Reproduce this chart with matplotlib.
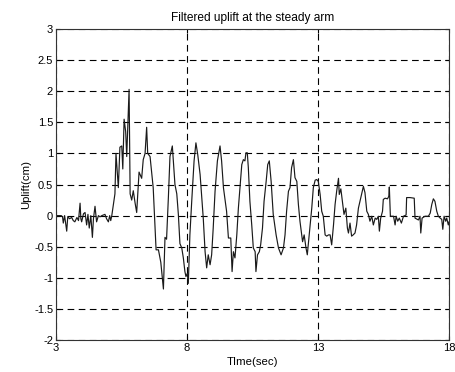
import matplotlib
matplotlib.use('Agg')
import matplotlib.pyplot as plt

plt.rcParams['font.family'] = ['Liberation Sans', 'DejaVu Sans']
plt.rcParams['axes.unicode_minus'] = False

# time (s) and filtered uplift (cm)
time_s = [
    3.00, 3.20, 3.25, 3.28, 3.33, 3.41, 3.45, 3.52, 3.60, 3.66, 3.72, 3.80, 3.86,
    3.92, 3.95, 3.98, 4.05, 4.11, 4.17, 4.22, 4.27, 4.33, 4.39, 4.43, 4.49, 4.55,
    4.62, 4.68, 4.75, 4.87, 4.93, 5.00, 5.05, 5.09, 5.13, 5.25, 5.29, 5.34, 5.38,
    5.44, 5.51, 5.55, 5.60, 5.66, 5.70, 5.74, 5.79, 5.83, 5.89, 5.95, 6.02, 6.08,
    6.17, 6.27, 6.33, 6.40, 6.46, 6.50, 6.59, 6.71, 6.82, 6.91, 7.00, 7.07, 7.10,
    7.16, 7.22, 7.29, 7.35, 7.44,
    7.54, 7.61, 7.67, 7.73, 7.80, 7.86, 7.92, 7.96, 8.01, 8.05, 8.11, 8.18, 8.27,
    8.34, 8.41, 8.50, 8.62, 8.69, 8.75, 8.81, 8.88, 8.94, 9.00, 9.07, 9.16, 9.26,
    9.32, 9.39, 9.51, 9.58, 9.67, 9.72, 9.77, 9.83, 9.90, 9.96, 10.02, 10.09,
    10.15, 10.21, 10.25, 10.30, 10.34, 10.40, 10.47, 10.53, 10.60, 10.63, 10.69,
    10.76, 10.81, 10.88, 10.94, 11.02, 11.08, 11.14, 11.21, 11.29, 11.40, 11.49,
    11.59, 11.68, 11.74, 11.80, 11.87, 11.93, 11.99, 12.06, 12.12, 12.19, 12.25,
    12.31, 12.41, 12.47, 12.54, 12.59, 12.64, 12.69, 12.76, 12.82, 12.89, 12.95,
    13.01,
    13.08, 13.14, 13.20, 13.27, 13.33, 13.40, 13.46, 13.52, 13.59, 13.65, 13.71,
    13.78, 13.81, 13.87, 13.93, 13.99, 14.06, 14.12, 14.16, 14.22, 14.28, 14.34,
    14.41, 14.47, 14.54, 14.60, 14.66, 14.73, 14.79, 14.86, 14.92, 14.98, 15.05,
    15.11, 15.18, 15.24, 15.30, 15.34, 15.39, 15.46, 15.49, 15.56, 15.65, 15.70,
    15.72, 15.76, 15.88, 15.94, 15.98, 16.04, 16.10, 16.18, 16.26, 16.36, 16.38,
    16.51, 16.67, 16.70, 16.83, 16.89, 16.92, 16.97, 17.08, 17.21, 17.28, 17.34,
    17.40, 17.46, 17.53, 17.59, 17.66, 17.72, 17.76, 17.81, 17.87, 17.91, 17.97,
    18.00,
]
uplift_cm = [
    0.00, 0.00, -0.02, -0.12, 0.00, -0.25, -0.02, -0.05, -0.03, -0.08, -0.10, -0.03, -0.08,
    0.20, -0.05, -0.10, 0.03, 0.05, -0.15, 0.02, -0.20, 0.00, -0.35, -0.05, 0.15, -0.10,
    0.00, -0.02, 0.00, 0.02, -0.05, -0.10, 0.00, -0.08, 0.00, 0.35, 1.00, 0.70, 0.45,
    1.10, 1.12, 0.75, 1.55, 1.35, 0.95, 1.45, 2.03, 0.35, 0.25, 0.40, 0.20, 0.05,
    0.70, 0.60, 0.90, 1.00, 1.42, 1.00, 0.95, 0.45, -0.55, -0.55, -0.75, -1.05, -1.18,
    -0.35, -0.38, 0.30, 0.95, 1.12,
    0.50, 0.35, 0.02, -0.45, -0.52, -0.68, -0.90, -0.98, -0.93, -1.09, -0.31, 0.23, 0.88,
    1.17, 0.98, 0.66, -0.04, -0.58, -0.84, -0.63, -0.79, -0.63, -0.20, 0.39, 0.88, 1.12,
    0.88, 0.45, 0.07, -0.36, -0.36, -0.90, -0.58, -0.68, -0.31, 0.12, 0.45, 0.82,
    0.90, 0.88, 1.01, 1.01, 0.77, 0.23, -0.15, -0.52, -0.58, -0.90, -0.63,
    -0.58, -0.47, -0.20, 0.23, 0.55, 0.82, 0.88, 0.55, 0.02, -0.31, -0.52,
    -0.63, -0.52, -0.31, 0.07, 0.39, 0.45, 0.77, 0.90, 0.61, 0.55, 0.18,
    -0.09, -0.42, -0.31, -0.52, -0.63, -0.41, -0.20, 0.12, 0.45, 0.57, 0.58,
    0.55,
    0.34, 0.07, -0.01, -0.31, -0.33, -0.31, -0.31, -0.47, -0.15, 0.18, 0.39,
    0.60, 0.34, 0.43, 0.23, 0.02, 0.12, -0.20, -0.28, -0.12, -0.33, -0.31,
    -0.28, -0.15, 0.12, 0.23, 0.34, 0.47, 0.37, 0.07, 0.02, -0.09, -0.01,
    -0.15, -0.04, -0.06, -0.01, -0.25, -0.04, 0.07, 0.26, 0.28, 0.27, 0.31,
    0.46, -0.01, -0.01, -0.15, -0.01, -0.09, -0.04, -0.12, -0.01, 0.01, 0.29,
    0.29, 0.28, -0.04, -0.07, -0.01, -0.28, -0.04, -0.01, -0.01, 0.04, 0.18,
    0.27, 0.23, 0.07, -0.01, -0.04, -0.06, -0.22, -0.01, -0.09, -0.04, -0.15,
    -0.10,
]

x_ticks = [3, 8, 13, 18]
y_ticks = [-2, -1.5, -1, -0.5, 0, 0.5, 1, 1.5, 2, 2.5, 3]
y_tick_labels = ['-2', '-1.5', '-1', '-0.5', '0', '0.5', '1', '1.5', '2', '2.5', '3']

fig = plt.figure(figsize=(4.55, 3.72), dpi=100)
ax = fig.add_axes([0.123, 0.086, 0.864, 0.836])

ax.plot(time_s, uplift_cm, color='#1a1a1a', linewidth=0.85)

ax.set_xlim(3, 18)
ax.set_ylim(-2, 3)
ax.set_xticks(x_ticks)
ax.set_xticklabels([str(t) for t in x_ticks])
ax.set_yticks(y_ticks)
ax.set_yticklabels(y_tick_labels)

ax.grid(True, color='black', linestyle=(0, (6, 4)), linewidth=0.8)
ax.tick_params(direction='in', length=3, labelsize=8, top=True, right=True, pad=2)
for s in ax.spines.values():
    s.set_color('#333333')
    s.set_linewidth(0.8)

ax.set_title('Filtered uplift at the steady arm', fontsize=8.6, pad=6)
ax.set_xlabel('TIme(sec)', fontsize=8.2, labelpad=3)
ax.set_ylabel('Uplift(cm)', fontsize=8.2, labelpad=2)

fig.savefig('out.png', dpi=100)
